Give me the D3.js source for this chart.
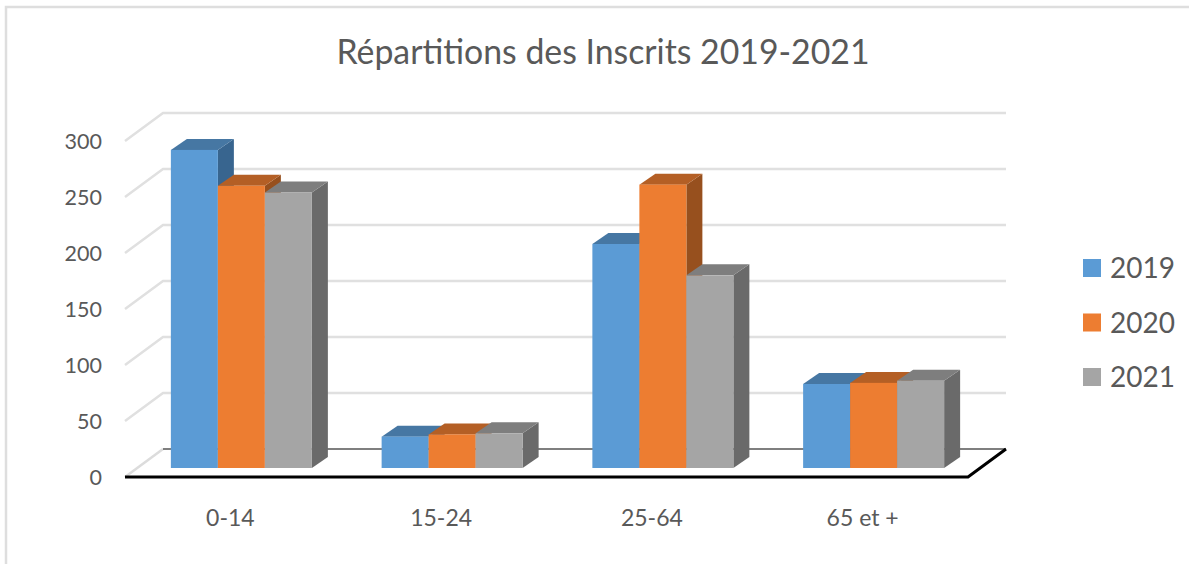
<!DOCTYPE html>
<html>
<head>
<meta charset="utf-8">
<script src="https://d3js.org/d3.v7.min.js"></script>
<style>
  html, body { margin: 0; padding: 0; background: #fff; }
  svg { display: block; }
  text { font-family: Lato, "Open Sans", sans-serif; fill: #595959; }
</style>
</head>
<body>
<script>
const categories = ['0-14', '15-24', '25-64', '65 et +']
const years = ['2019', '2020', '2021']
const values2019 = [284, 28, 200, 75]
const values2020 = [252, 30, 253, 76]
const values2021 = [246, 31, 172, 78]
const yTicks = [0, 50, 100, 150, 200, 250, 300]
const seriesValues = [values2019, values2020, values2021]

const colors = ['#5b9bd5', '#ed7d31', '#a5a5a5']
const topColors = ['#4677a3', '#b45f25', '#7e7e7e']
const sideColors = ['#38658f', '#97501e', '#6a6a6a']

const w = 1189
const h = 564

// floor depth of the 3d box, and of each bar
const depthX = 38
const depthY = -28
const barDepthX = 16
const barDepthY = -11
const barShiftX = 11
const barShiftY = -9

const svg = d3.select('body').append('svg').attr('width', w).attr('height', h)

// chart frame
svg.append('path')
  .attr('d', 'M6,' + h + 'V7H' + w)
  .attr('fill', 'none')
  .attr('stroke', '#dedede')
  .attr('stroke-width', 2.5)

svg.append('text')
  .attr('x', 603).attr('y', 64)
  .attr('text-anchor', 'middle')
  .attr('font-size', 33.8)
  .text('Répartitions des Inscrits 2019-2021')

const xScale = d3.scaleBand().domain(categories).range([125, 968])
const yScale = d3.scaleLinear().domain([0, 300]).range([477, 141])
const groupScale = d3.scaleBand().domain(years).range([0, 141])
const groupPad = (xScale.bandwidth() - groupScale.range()[1]) / 2

// gridlines: left wall diagonal + back wall
yTicks.filter(t => t > 0).forEach(t => {
  svg.append('path')
    .attr('d', d3.line()([
      [125, yScale(t)],
      [125 + depthX, yScale(t) + depthY],
      [968 + depthX, yScale(t) + depthY]
    ]))
    .attr('fill', 'none')
    .attr('stroke', '#e0e0e0')
    .attr('stroke-width', 2.5)
})

// floor
svg.append('path')
  .attr('d', d3.line()([[125, yScale(0)], [125 + depthX, yScale(0) + depthY]]))
  .attr('stroke', '#dcdcdc').attr('stroke-width', 2.5)
svg.append('path')
  .attr('d', d3.line()([[125 + depthX, yScale(0) + depthY], [968 + depthX, yScale(0) + depthY]]))
  .attr('stroke', '#555').attr('stroke-width', 1.5)
svg.append('path')
  .attr('d', d3.line()([[125, yScale(0)], [968, yScale(0)], [968 + depthX, yScale(0) + depthY]]))
  .attr('fill', 'none')
  .attr('stroke', '#000')
  .attr('stroke-width', 3)

// bars
categories.forEach((cat, i) => {
  years.forEach((yr, s) => {
    const x0 = xScale(cat) + groupPad + groupScale(yr) + barShiftX
    const x1 = x0 + groupScale.bandwidth()
    const y0 = yScale(0) + barShiftY
    const y1 = yScale(seriesValues[s][i]) + barShiftY
    const g = svg.append('g')

    g.append('polygon')
      .attr('points', [[x1, y1], [x1 + barDepthX, y1 + barDepthY], [x1 + barDepthX, y0 + barDepthY], [x1, y0]].join(' '))
      .attr('fill', sideColors[s])
    g.append('polygon')
      .attr('points', [[x0, y1], [x0 + barDepthX, y1 + barDepthY], [x1 + barDepthX, y1 + barDepthY], [x1, y1]].join(' '))
      .attr('fill', topColors[s])
    g.append('rect')
      .attr('x', x0).attr('y', y1)
      .attr('width', x1 - x0).attr('height', y0 - y1)
      .attr('fill', colors[s])
  })
})

// y axis labels
svg.selectAll('.ylab')
  .data(yTicks)
  .enter()
  .append('text')
  .attr('class', 'ylab')
  .attr('x', 102)
  .attr('y', d => yScale(d) + 8)
  .attr('text-anchor', 'end')
  .attr('font-size', 21.5)
  .text(d => d)

// x axis labels
svg.selectAll('.xlab')
  .data(categories)
  .enter()
  .append('text')
  .attr('class', 'xlab')
  .attr('x', d => xScale(d) + xScale.bandwidth() / 2)
  .attr('y', 526)
  .attr('text-anchor', 'middle')
  .attr('font-size', 23)
  .text(d => d)

// legend
const legendY = d3.scalePoint().domain(years).range([268, 377])
years.forEach((yr, s) => {
  svg.append('rect')
    .attr('x', 1083).attr('y', legendY(yr) - 9)
    .attr('width', 18).attr('height', 18)
    .attr('fill', colors[s])
  svg.append('text')
    .attr('x', 1110).attr('y', legendY(yr) + 10)
    .attr('font-size', 28)
    .text(yr)
})
</script>
</body>
</html>
